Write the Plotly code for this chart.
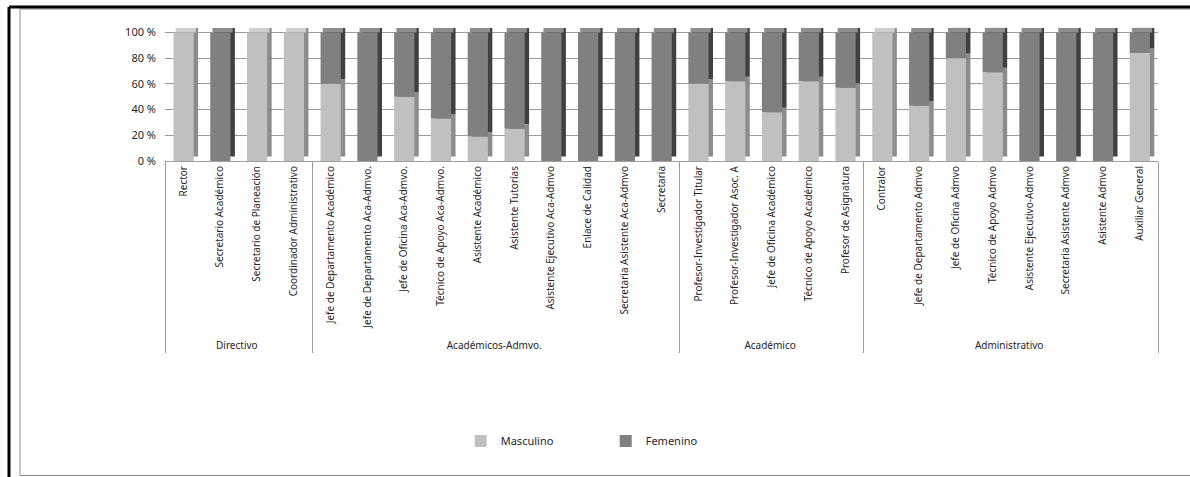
import plotly.graph_objects as go

# Categories: group (outer level) and position (inner level)
grupos = (["Directivo"] * 4 + ["Académicos-Admvo."] * 10
          + ["Académico"] * 5 + ["Administrativo"] * 8)
puestos = [
    "Rector", "Secretario Académico", "Secretario de Planeación",
    "Coordinador Administrativo",
    "Jefe de Departamento Académico", "Jefe de Departamento Aca-Admvo.",
    "Jefe de Oficina Aca-Admvo.", "Técnico de Apoyo Aca-Admvo.",
    "Asistente Académico", "Asistente Tutorías",
    "Asistente Ejecutivo Aca-Admvo", "Enlace de Calidad",
    "Secretaria Asistente Aca-Admvo", "Secretaria",
    "Profesor-Investigador Titular", "Profesor-Investigador Asoc. A",
    "Jefe de Oficina Académico", "Técnico de Apoyo Académico",
    "Profesor de Asignatura",
    "Contralor", "Jefe de Departamento Admvo", "Jefe de Oficina Admvo",
    "Técnico de Apoyo Admvo", "Asistente Ejecutivo-Admvo",
    "Secretaria Asistente Admvo", "Asistente Admvo", "Auxiliar General",
]
# Share of each sex per position (%)
masculino = [100, 0, 100, 100,
             60, 0, 50, 33, 19, 25, 0, 0, 0, 0,
             60, 62, 38, 62, 57,
             100, 43, 80, 69, 0, 0, 0, 84]
femenino = [100 - m for m in masculino]
tick_vals = [0, 20, 40, 60, 80, 100]
tick_text = ["0 %", "20 %", "40 %", "60 %", "80 %", "100 %"]

# Styling
C_MASC, C_FEM = "#c0c0c0", "#808080"
C_MASC_SIDE, C_FEM_SIDE = "#8c8c8c", "#404040"
C_MASC_TOP, C_FEM_TOP = "#cfcfcf", "#8e8e8e"
C_GRID = "#9c9c9c"
BAR_W, BAR_OFF = 0.55, -0.27      # front face (category units)
DEPTH_X, DEPTH_Y = 0.12, 3.5      # pseudo-3D bar depth (category units, %)
FONT = "Noto Sans"
TXT = "#262626"

W, H = 1190, 477
ML, MR, MT, MB = 165, 32, 26, 316
PW, PH = W - ML - MR, H - MT - MB

x_cat = [grupos, puestos]
n = len(puestos)
totales = [m + f for m, f in zip(masculino, femenino)]

fig = go.Figure()

common = dict(x=x_cat, cliponaxis=False, marker_line_width=0,
              hoverinfo="skip")

# side faces
fig.add_trace(go.Bar(y=masculino, base=[DEPTH_Y] * n, width=BAR_W,
                     offset=BAR_OFF + DEPTH_X, marker_color=C_MASC_SIDE,
                     showlegend=False, **common))
fig.add_trace(go.Bar(y=femenino, base=[m + DEPTH_Y for m in masculino],
                     width=BAR_W, offset=BAR_OFF + DEPTH_X,
                     marker_color=C_FEM_SIDE, showlegend=False, **common))
# top faces
fig.add_trace(go.Bar(y=[DEPTH_Y] * n, base=totales, width=BAR_W,
                     offset=BAR_OFF + DEPTH_X / 2,
                     marker_color=[C_FEM_TOP if f > 0 else C_MASC_TOP
                                   for f in femenino],
                     showlegend=False, **common))
# front faces
fig.add_trace(go.Bar(y=masculino, base=[0] * n, width=BAR_W, offset=BAR_OFF,
                     marker_color=C_MASC, name="Masculino", **common))
fig.add_trace(go.Bar(y=femenino, base=masculino, width=BAR_W, offset=BAR_OFF,
                     marker_color=C_FEM, name="Femenino", **common))

fig.update_layout(
    width=W, height=H,
    margin=dict(l=ML, r=MR, t=MT, b=MB),
    paper_bgcolor="white", plot_bgcolor="white",
    barmode="overlay",
    font=dict(family=FONT, size=10, color=TXT),
    xaxis=dict(type="multicategory", tickangle=-90,
               tickfont=dict(family=FONT, size=10, color=TXT),
               showdividers=True, dividercolor="#9a9a9a", dividerwidth=1,
               showline=True, linecolor="#a0a0a0", linewidth=1,
               showgrid=False, zeroline=False, ticks=""),
    yaxis=dict(range=[0, 105], tickmode="array", tickvals=tick_vals,
               ticktext=tick_text, showgrid=True, gridcolor=C_GRID,
               gridwidth=1, zeroline=False, showline=False, ticks="",
               ticklabelstandoff=8,
               tickfont=dict(family=FONT, size=11, color=TXT)),
    legend=dict(orientation="h", xref="container", yref="container",
                x=0.509, xanchor="center", y=1 - 441 / H, yanchor="middle",
                font=dict(family=FONT, size=11, color=TXT),
                entrywidth=100, traceorder="normal"),
    showlegend=True,
)


def px_to_paper(px, py):
    return (px - ML) / PW, (H - MB - py) / PH


# outer frame: heavy black top/left edges and thin grey inner border
x0, y0 = px_to_paper(20, 9)
x1, y1 = px_to_paper(1195, 475.5)
fig.add_shape(type="rect", xref="paper", yref="paper", x0=x0, y0=y1, x1=x1,
              y1=y0, line=dict(color="#8a8a8a", width=1), layer="above")
bx0, by0 = px_to_paper(9, 7)
bx1, by1 = px_to_paper(1195, 480)
fig.add_shape(type="line", xref="paper", yref="paper", x0=bx0, y0=by0,
              x1=bx1, y1=by0, line=dict(color="black", width=3))
fig.add_shape(type="line", xref="paper", yref="paper", x0=bx0, y0=by0,
              x1=bx0, y1=by1, line=dict(color="black", width=3))

fig.write_html("out.html")
